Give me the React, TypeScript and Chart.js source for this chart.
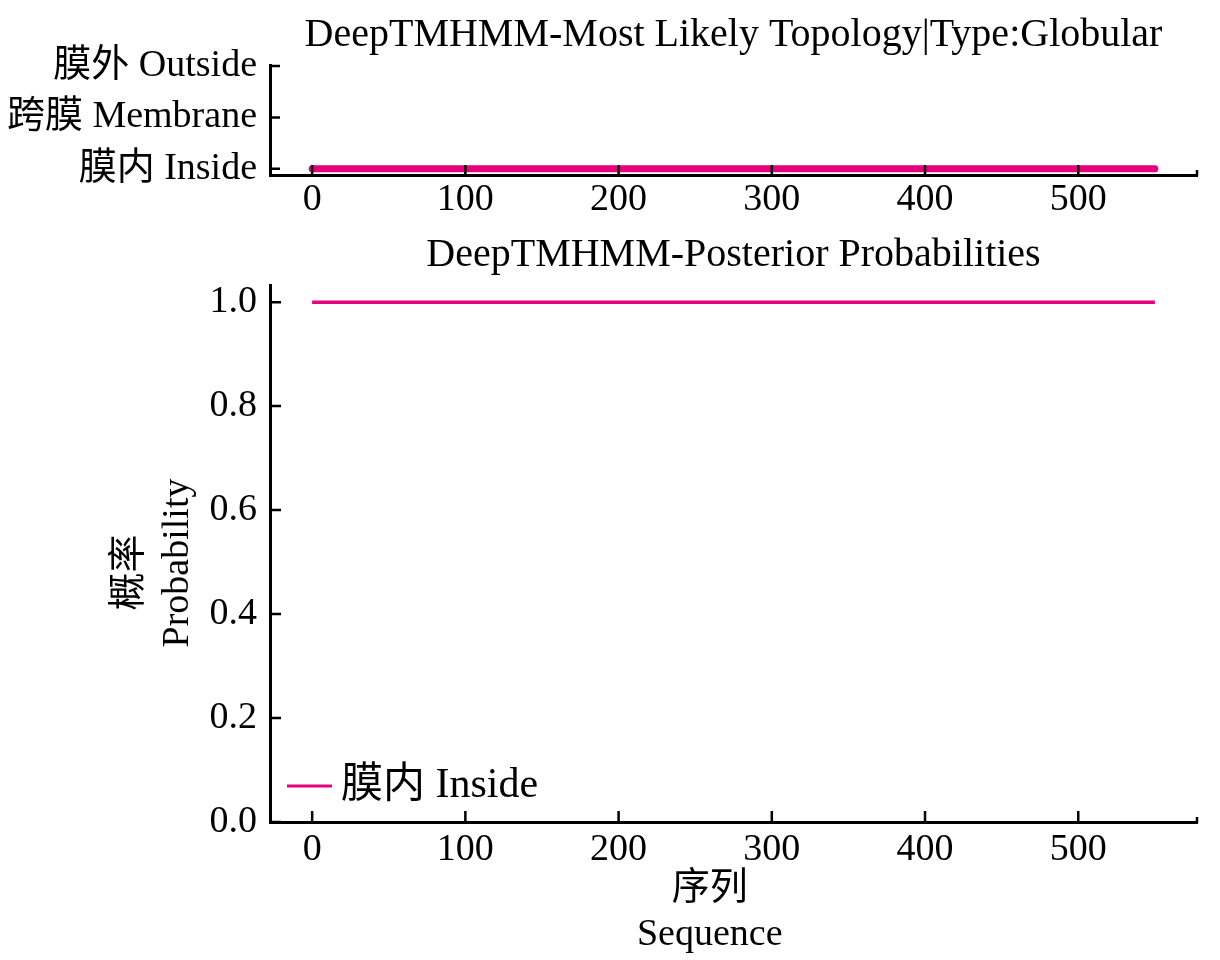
import React, { useEffect, useRef } from "react";
import { Chart, registerables } from "chart.js";

Chart.register(...registerables);

const FONT = "'Liberation Serif', 'Noto Sans CJK SC', serif";
const PINK = "#E5007E";

// ---- data ----
const topTitle = "DeepTMHMM-Most Likely Topology|Type:Globular";
const bottomTitle = "DeepTMHMM-Posterior Probabilities";
const topologyLabels = ["膜内 Inside", "跨膜 Membrane", "膜外 Outside"];
const topologySegmentStart = [0];
const topologySegmentEnd = [550];
const topologySegmentState = [0]; // index into topologyLabels
const sequenceTicks = [0, 100, 200, 300, 400, 500];
const topologyTicks = [0, 1, 2];
const probabilityTicks = [0, 0.2, 0.4, 0.6, 0.8, 1.0];
const posteriorPositions = [0, 50, 100, 150, 200, 250, 300, 350, 400, 450, 500, 550];
const insideProbability = [1, 1, 1, 1, 1, 1, 1, 1, 1, 1, 1, 1];
const insideLabel = "膜内 Inside";
// trailing spaces nudge the centred lines the way the reference sits
const yTitleLines = ["概率    ", "Probability  "];
const xTitleLines = ["序列     ", "Sequence     "];

const inwardTicks = {
  id: "inwardTicks",
  afterDatasetsDraw(chart: any, _args: any, opts: any) {
    const { ctx, chartArea } = chart;
    const len = opts?.length ?? 11;
    const x = chart.scales.x;
    const y = chart.scales.y;
    ctx.save();
    ctx.strokeStyle = "#000";
    ctx.lineWidth = 2.5;
    ctx.beginPath();
    x.ticks.forEach((t: any) => {
      const px = x.getPixelForValue(t.value);
      ctx.moveTo(px, chartArea.bottom);
      ctx.lineTo(px, chartArea.bottom - len);
    });
    y.ticks.forEach((t: any) => {
      const py = y.getPixelForValue(t.value);
      ctx.moveTo(chartArea.left, py);
      ctx.lineTo(chartArea.left + len, py);
    });
    // small end cap at the right end of the bottom spine
    ctx.moveTo(chartArea.right, chartArea.bottom + 1);
    ctx.lineTo(chartArea.right, chartArea.bottom - 5);
    ctx.stroke();
    ctx.restore();
  },
};

const cornerLegend = {
  id: "cornerLegend",
  afterDatasetsDraw(chart: any) {
    const { ctx, chartArea } = chart;
    const ds = chart.data.datasets[0];
    const y = chartArea.bottom - 36;
    ctx.save();
    ctx.strokeStyle = ds.borderColor;
    ctx.lineWidth = 3;
    ctx.beginPath();
    ctx.moveTo(chartArea.left + 17, y);
    ctx.lineTo(chartArea.left + 62, y);
    ctx.stroke();
    ctx.fillStyle = "#000";
    ctx.font = `42px ${FONT}`;
    ctx.textBaseline = "middle";
    ctx.textAlign = "left";
    ctx.fillText(ds.label, chartArea.left + 71, y);
    ctx.restore();
  },
};

function buildTopologyPoints() {
  const pts: any[] = [];
  topologySegmentStart.forEach((s, i) => {
    if (i > 0) pts.push({ x: s, y: null });
    pts.push({ x: s, y: topologySegmentState[i] });
    pts.push({ x: topologySegmentEnd[i], y: topologySegmentState[i] });
  });
  return pts;
}

const tickFont = { family: FONT, size: 38 };

export default function App() {
  const topRef = useRef<HTMLCanvasElement>(null);
  const botRef = useRef<HTMLCanvasElement>(null);

  useEffect(() => {
    Chart.defaults.color = "#000";
    const top = new Chart(topRef.current as HTMLCanvasElement, {
      type: "line",
      data: {
        datasets: [
          {
            label: "Topology",
            data: buildTopologyPoints(),
            borderColor: PINK,
            borderWidth: 7,
            borderCapStyle: "round",
            pointRadius: 0,
            tension: 0,
            fill: false,
          } as any,
        ],
      },
      options: {
        responsive: false,
        animation: false,
        devicePixelRatio: 1,
        layout: { padding: { left: 0, right: 23, top: 0, bottom: 0 } },
        plugins: {
          legend: { display: false },
          tooltip: { enabled: false },
          title: {
            display: true,
            text: topTitle,
            fullSize: false,
            color: "#000",
            font: { family: FONT, size: 40, weight: "normal" },
            padding: { top: 11, bottom: 6 },
          },
          inwardTicks: { length: 10 },
        } as any,
        scales: {
          x: {
            type: "linear",
            min: -27.5,
            max: 577.5,
            afterBuildTicks: (s: any) => {
              s.ticks = sequenceTicks.map((v) => ({ value: v }));
            },
            afterFit: (s: any) => {
              s.height = 55;
            },
            grid: { drawOnChartArea: false, drawTicks: false },
            border: { display: true, color: "#000", width: 3 },
            ticks: {
              font: tickFont,
              color: "#000",
              padding: 2,
              maxRotation: 0,
              autoSkip: false,
              callback: (v: any) => String(v),
            },
          },
          y: {
            type: "linear",
            min: -0.12,
            max: 2.02,
            afterBuildTicks: (s: any) => {
              s.ticks = topologyTicks.map((v) => ({ value: v }));
            },
            afterFit: (s: any) => {
              s.width = 270;
            },
            grid: { drawOnChartArea: false, drawTicks: false },
            border: { display: true, color: "#000", width: 3 },
            ticks: {
              font: { family: FONT, size: 38 },
              color: "#000",
              padding: 13,
              autoSkip: false,
              callback: (v: any) => topologyLabels[v] ?? "",
            },
          },
        },
      } as any,
      plugins: [inwardTicks],
    });

    const bottom = new Chart(botRef.current as HTMLCanvasElement, {
      type: "line",
      data: {
        datasets: [
          {
            label: insideLabel,
            data: posteriorPositions.map((x, i) => ({ x, y: insideProbability[i] })),
            borderColor: PINK,
            borderWidth: 3.5,
            pointRadius: 0,
            tension: 0,
            fill: false,
          } as any,
        ],
      },
      options: {
        responsive: false,
        animation: false,
        devicePixelRatio: 1,
        layout: { padding: { left: 0, right: 23, top: 0, bottom: 0 } },
        plugins: {
          legend: { display: false },
          tooltip: { enabled: false },
          title: {
            display: true,
            text: bottomTitle,
            fullSize: false,
            color: "#000",
            font: { family: FONT, size: 40, weight: "normal" },
            padding: { top: 1, bottom: 6 },
          },
          inwardTicks: { length: 11 },
        } as any,
        scales: {
          x: {
            type: "linear",
            min: -27.5,
            max: 577.5,
            afterBuildTicks: (s: any) => {
              s.ticks = sequenceTicks.map((v) => ({ value: v }));
            },
            afterFit: (s: any) => {
              s.height = 138;
            },
            grid: { drawOnChartArea: false, drawTicks: false },
            border: { display: true, color: "#000", width: 3 },
            ticks: {
              font: tickFont,
              color: "#000",
              padding: 5,
              maxRotation: 0,
              autoSkip: false,
              callback: (v: any) => String(v),
            },
            title: {
              display: true,
              text: xTitleLines,
              color: "#000",
              font: { family: FONT, size: 38, lineHeight: 46 / 38 },
              padding: { top: 0, bottom: 2 },
            },
          },
          y: {
            type: "linear",
            min: 0,
            max: 1.033,
            afterBuildTicks: (s: any) => {
              s.ticks = probabilityTicks.map((v) => ({ value: v }));
            },
            afterFit: (s: any) => {
              s.width = 270;
            },
            grid: { drawOnChartArea: false, drawTicks: false },
            border: { display: true, color: "#000", width: 3 },
            ticks: {
              font: tickFont,
              color: "#000",
              padding: 13,
              autoSkip: false,
              callback: (v: any) => Number(v).toFixed(1),
            },
            title: {
              display: true,
              text: yTitleLines,
              color: "#000",
              font: { family: FONT, size: 38, lineHeight: 48 / 38 },
              padding: { top: 106, bottom: 0 },
            },
          },
        },
      } as any,
      plugins: [inwardTicks, cornerLegend],
    });

    return () => {
      top.destroy();
      bottom.destroy();
    };
  }, []);

  return (
    <div style={{ position: "absolute", left: 0, top: 0, width: 1220, height: 960, background: "#fff" }}>
      <canvas ref={topRef} width={1220} height={230} style={{ position: "absolute", left: 0, top: 0 }} />
      <canvas ref={botRef} width={1220} height={730} style={{ position: "absolute", left: 0, top: 230 }} />
    </div>
  );
}
